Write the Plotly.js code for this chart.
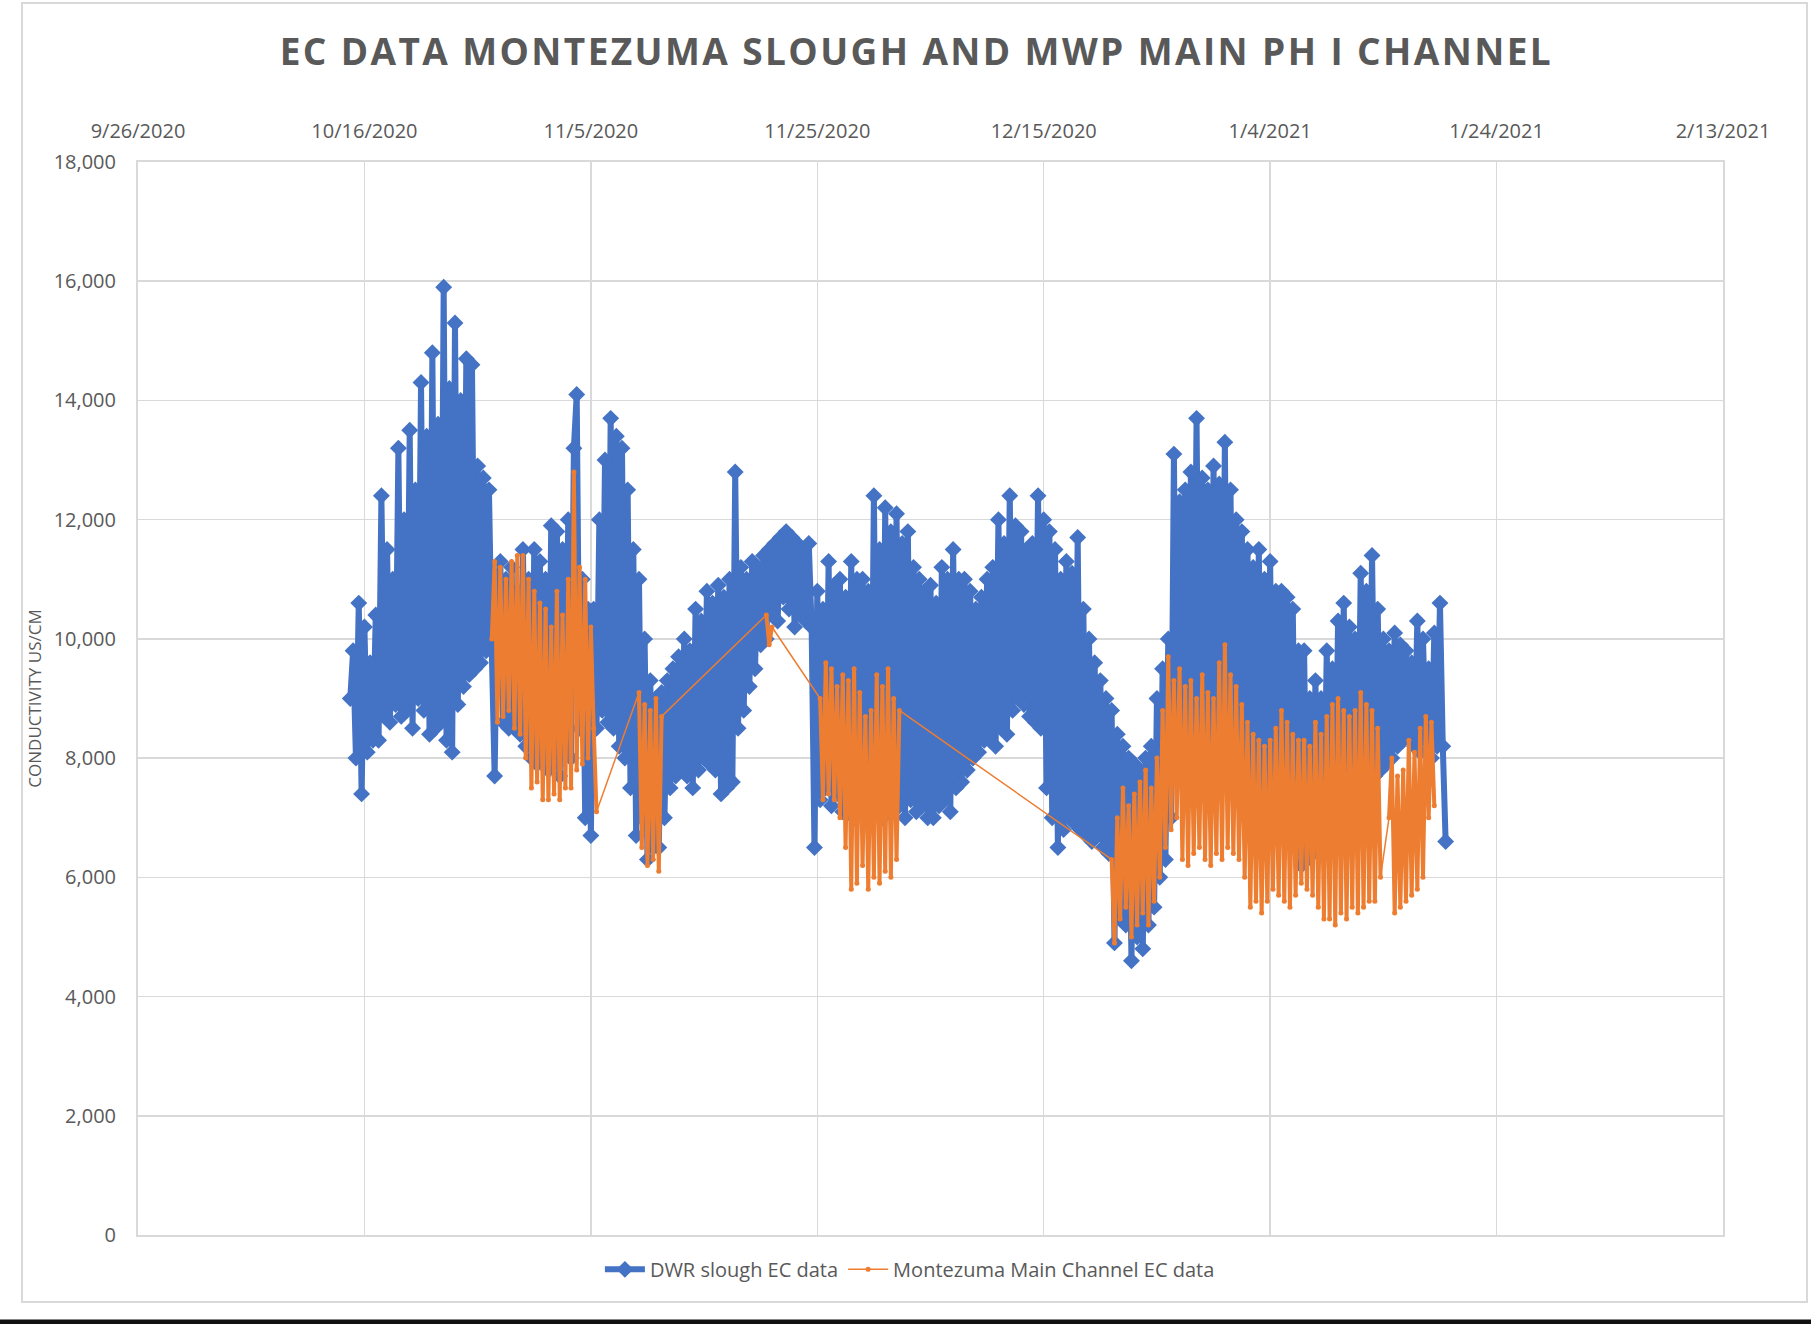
<!DOCTYPE html>
<html>
<head>
<meta charset="utf-8">
<script src="https://cdn.plot.ly/plotly-3.0.1.min.js"></script>
<style>
  html, body { margin: 0; padding: 0; background: #fff; }
  #chart { width: 1811px; height: 1324px; }
  .gtitle { letter-spacing: 2.4px; }
</style>
</head>
<body>
<div id="chart"></div>
<script>
// ---- data (sample step: 6 hours) ----
const STEP_HOURS = 6;

const dwrStart = '2020-10-14T18:00:00Z';
const dwrEC = [
  9000,
  9800, 8000, 10600, 7400,
  10200, 8100, 9600, 8300,
  10400, 8300, 12400, 8700,
  11500, 8600, 11000, 8900,
  13200, 8700, 12000, 8800,
  13500, 8500, 12500, 9000,
  14300, 8800, 13400, 8400,
  14800, 8500, 13600, 8600,
  15900, 8300, 14200, 8100,
  15300, 8900, 14000, 9200,
  14700, 9400, 14600, 9500,
  12900, 9600, 12700, 9800,
  12500, 9800, 7700, 11000,
  11300, 8600, 11000, 8500,
  11200, 8500, 10800, 8400,
  11500, 8200, 11000, 8000,
  11500, 7900, 11300, 8000,
  11000, 7800, 11900, 7900,
  11800, 7700, 11500, 8100,
  12000, 8000, 13200, 14100,
  8500, 11000, 7000, 10500,
  6700, 10500, 8500, 12000,
  8800, 13000, 8600, 13700,
  8500, 13400, 8200, 13200,
  8000, 12500, 7500, 11500,
  6700, 11000, 7000, 10000,
  6300, 9300, 6500, 9000,
  6500, 9100, 7000, 9300,
  7500, 9500, 7700, 9700,
  7800, 10000, 7700, 9800,
  7500, 10500, 7800, 10300,
  8000, 10800, 7900, 10600,
  7800, 10900, 7400, 10700,
  7500, 11000, 7600, 12800,
  8500, 11200, 8800, 11000,
  9200, 11300, 9500, 11200,
  9900, 11400, 10000, 11500,
  10400, 11600, 10300, 11700,
  10700, 11800, 10500, 11700,
  10200, 11600, 10400, 11500,
  10300, 11600, 10200, 6500,
  10800, 7300, 10500, 7500,
  11300, 7200, 10900, 7400,
  11000, 7100, 10700, 7300,
  11300, 7000, 11000, 7200,
  11000, 7100, 10800, 7300,
  12400, 7200, 11500, 7000,
  12200, 7100, 11800, 7300,
  12100, 7200, 11600, 7000,
  11800, 7300, 11200, 7100,
  11000, 7200, 10800, 7000,
  10900, 7000, 10600, 7200,
  11200, 7300, 11000, 7100,
  11500, 7500, 11000, 7600,
  11000, 7800, 10800, 8000,
  10500, 8100, 10700, 8300,
  11000, 8300, 11200, 8200,
  12000, 8500, 11600, 8400,
  12400, 8800, 11900, 9000,
  11800, 8900, 11500, 8700,
  11600, 8600, 12400, 8500,
  12000, 7500, 11800, 7000,
  11500, 6500, 11000, 6800,
  11300, 7000, 11100, 6900,
  11700, 6800, 10500, 6700,
  10000, 6600, 9600, 6700,
  9300, 6500, 9000, 6400,
  8800, 4900, 8400, 5300,
  8200, 5200, 8000, 4600,
  7900, 5000, 7800, 4800,
  8000, 5200, 8200, 5500,
  9000, 6000, 9500, 6300,
  10000, 7000, 13100, 7800,
  12300, 8000, 12500, 8200,
  12800, 8300, 13700, 8200,
  12700, 8000, 12500, 7900,
  12900, 7800, 12600, 7700,
  13300, 7600, 12500, 7500,
  12000, 7400, 11800, 7300,
  11500, 7200, 11200, 7100,
  11500, 7000, 11000, 6900,
  11300, 7000, 10800, 6800,
  10800, 6900, 10700, 6700,
  10500, 6500, 9800, 6200,
  9800, 6300, 9000, 6400,
  9300, 6500, 9000, 6800,
  9800, 6900, 9500, 7000,
  10300, 7000, 10600, 7100,
  10200, 7200, 10000, 7300,
  11100, 7400, 10800, 7500,
  11400, 7700, 10500, 7800,
  10000, 7900, 9800, 8000,
  10100, 8200, 9900, 8300,
  9800, 8400, 9600, 8200,
  10300, 8100, 10000, 8300,
  9500, 8000, 10100, 8200,
  10600, 8200, 6600
];

// Montezuma Main Channel: logged in separate deployments
const mmcStarts = [
  '2020-10-27T06:00:00Z',
  '2020-11-09T06:00:00Z',
  '2020-11-20T12:00:00Z',
  '2020-11-25T06:00:00Z',
  '2020-12-21T00:00:00Z',
  '2021-01-14T12:00:00Z'
];
const mmcSeg1 = [10000, 11300, 8600,
  11200, 8700, 11000, 8800,
  11300, 8500, 11400, 8400,
  11400, 8000, 11000, 7500,
  10800, 7600, 10600, 7300,
  10500, 7300, 10200, 7400,
  10800, 7300, 10400, 7500,
  11000, 7500, 12800, 7800,
  11200, 7900, 11000, 8000,
  10200, 8500, 7100];
const mmcSeg2 = [9100, 6500, 8900, 6200, 8800, 6300, 9000, 6100, 8700];
const mmcSeg3 = [10400, 9900, 10200];
const mmcSeg4 = [9000, 7300, 9600,
  7400, 9500, 7300, 9200,
  7000, 9400, 6500, 9300,
  5800, 9500, 5900, 9100,
  6200, 8700, 5800, 8800,
  6000, 9400, 5900, 9200,
  6100, 9500, 6000, 9000,
  6300, 8800];
const mmcSeg5 = [
  6300, 4900, 7000, 5300,
  7500, 5500, 7200, 5000,
  7400, 5200, 7600, 5400,
  7800, 5200, 7500, 5600,
  8000, 6000, 8800, 6500,
  9700, 6800, 9300, 7000,
  9500, 6300, 9200, 6200,
  9300, 6400, 9000, 6500,
  9400, 6300, 9100, 6200,
  9000, 6400, 9600, 6300,
  9900, 6500, 9400, 6400,
  9200, 6300, 8900, 6000,
  8600, 5500, 8400, 5600,
  8300, 5400, 8200, 5600,
  8300, 5800, 8500, 5700,
  8800, 5600, 8600, 5500,
  8400, 5700, 8300, 5900,
  8300, 5800, 8200, 5700,
  8600, 5500, 8400, 5300,
  8700, 5300, 8900, 5200,
  9000, 5400, 8800, 5300,
  8700, 5500, 8800, 5400,
  9100, 5500, 8900, 5600,
  8800, 5600, 8500, 6000
];
const mmcSeg6 = [7000, 8000,
  5400, 7700, 5500, 7800,
  5600, 8300, 5700, 8100,
  5800, 8500, 6000, 8700,
  7000, 8600, 7200];

const xTickStart = '2020-09-26';
const xRange = ['2020-09-26', '2021-02-13'];
const yRange = [0, 18000];

// ---- build ----
function sampleTimes(startIso, n) {
  const t0 = Date.parse(startIso);
  const out = [];
  for (let i = 0; i < n; i++) {
    out.push(new Date(t0 + i * STEP_HOURS * 3600000).toISOString().slice(0, 16).replace('T', ' '));
  }
  return out;
}

const blue = '#4472C4';
const orange = '#ED7D31';
const txt = '#595959';
const grid = '#D9D9D9';
const FONT = 'Open Sans, Noto Sans, sans-serif';

const segs = [mmcSeg1, mmcSeg2, mmcSeg3, mmcSeg4, mmcSeg5, mmcSeg6];
let mmcX = [], mmcY = [];
const segTraces = [];
segs.forEach((vals, k) => {
  const xs = sampleTimes(mmcStarts[k], vals.length);
  mmcX = mmcX.concat(xs);
  mmcY = mmcY.concat(vals);
  segTraces.push({
    x: xs, y: vals, type: 'scatter', mode: 'lines',
    line: { color: orange, width: 4 },
    showlegend: false, hoverinfo: 'skip'
  });
});

const traces = [
  {
    x: sampleTimes(dwrStart, dwrEC.length), y: dwrEC,
    type: 'scatter', mode: 'lines+markers', name: 'DWR slough EC data',
    line: { color: blue, width: 6 },
    marker: { symbol: 'diamond', size: 13, color: blue }
  },
  {
    x: mmcX, y: mmcY,
    type: 'scatter', mode: 'lines+markers', name: 'Montezuma Main Channel EC data',
    line: { color: orange, width: 1.5 },
    marker: { symbol: 'circle', size: 5, color: orange }
  }
].concat(segTraces);

const layout = {
  width: 1811, height: 1324,
  paper_bgcolor: '#ffffff', plot_bgcolor: '#ffffff',
  margin: { l: 138, r: 88, t: 162, b: 89 },
  font: { family: FONT, color: txt },
  title: {
    text: 'EC DATA MONTEZUMA SLOUGH AND MWP MAIN PH I CHANNEL',
    font: { family: FONT, size: 37, color: txt, weight: 'bold' },
    x: 0.506, xanchor: 'center', xref: 'container',
    y: 0.961, yanchor: 'middle', yref: 'container'
  },
  xaxis: {
    type: 'date', side: 'top', range: xRange,
    tick0: xTickStart, dtick: 20 * 86400000, tickformat: '%-m/%-d/%Y',
    showgrid: true, gridcolor: grid, gridwidth: 1.5,
    showline: true, mirror: true, linecolor: grid, linewidth: 2,
    ticks: 'outside', ticklen: 14, tickcolor: 'rgba(0,0,0,0)',
    tickfont: { family: FONT, size: 20, color: txt },
    zeroline: false, fixedrange: true
  },
  yaxis: {
    range: yRange, dtick: 2000, tickformat: ',d',
    showgrid: true, gridcolor: grid, gridwidth: 1.5,
    showline: true, mirror: true, linecolor: grid, linewidth: 2,
    ticks: 'outside', ticklen: 16, tickcolor: 'rgba(0,0,0,0)',
    tickfont: { family: FONT, size: 20, color: txt },
    zeroline: false, fixedrange: true,
    title: { text: 'CONDUCTIVITY US/CM', font: { family: FONT, size: 17, color: txt }, standoff: 8 }
  },
  showlegend: true,
  legend: {
    orientation: 'h', x: 0.487, xanchor: 'center', y: -0.032, yanchor: 'middle',
    font: { family: FONT, size: 20, color: txt },
    bgcolor: 'rgba(0,0,0,0)', itemwidth: 40, traceorder: 'normal'
  },
  shapes: [
    { type: 'rect', xref: 'paper', yref: 'paper', x0: -0.0732, x1: 1.053, y0: -0.0624, y1: 1.1482,
      line: { color: grid, width: 2 }, fillcolor: 'rgba(0,0,0,0)', layer: 'below' },
    { type: 'rect', xref: 'paper', yref: 'paper', x0: -0.1, x1: 1.1, y0: -0.0848, y1: -0.0787,
      line: { width: 0 }, fillcolor: '#111111', layer: 'above' }
  ]
};

Plotly.newPlot('chart', traces, layout, { displayModeBar: false, staticPlot: true });
</script>
</body>
</html>
